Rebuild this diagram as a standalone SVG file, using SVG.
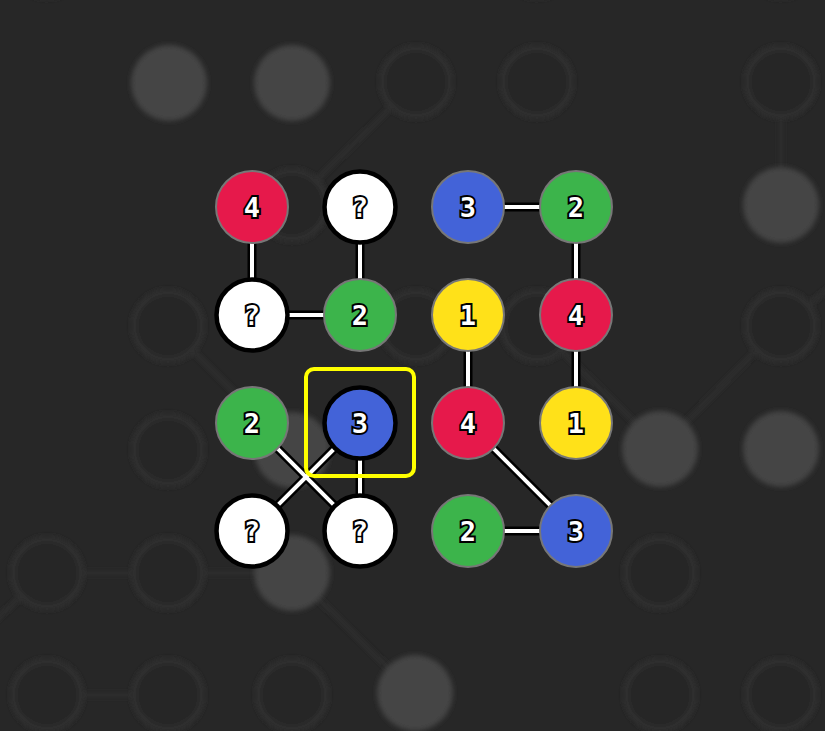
<svg xmlns="http://www.w3.org/2000/svg" width="825" height="731" viewBox="0 0 825 731">
<defs>
<style>
.ring{fill:#272727;stroke:#2e2e2e;stroke-width:7}
.blob{fill:#444}
.bgl{stroke:#2e2e2e;stroke-width:5}
.edge-o{stroke:#000;stroke-width:9}
.edge-i{stroke:#fff;stroke-width:4}
.c{stroke:#777;stroke-width:2}
.w{fill:#fff;stroke:#000;stroke-width:4.5}
.sel{stroke:#000;stroke-width:4.5}
.t{font-family:"DejaVu Sans Mono","Liberation Mono",monospace;font-weight:bold;font-size:27px;fill:#fff;stroke:#000;stroke-width:4;paint-order:stroke;text-anchor:middle;dominant-baseline:central}
</style>
<filter id="b1" x="-20%" y="-20%" width="140%" height="140%"><feGaussianBlur stdDeviation="2"/></filter>
<filter id="b2" x="-30%" y="-30%" width="160%" height="160%"><feGaussianBlur stdDeviation="2.5"/></filter>
</defs>
<rect width="825" height="731" fill="#272727"/>
<g id="background" filter="url(#b1)">
<line class="bgl" x1="416" y1="82" x2="292" y2="205"/>
<line class="bgl" x1="781" y1="82" x2="781" y2="205"/>
<line class="bgl" x1="168" y1="326" x2="292" y2="450"/>
<line class="bgl" x1="781" y1="326" x2="660" y2="448"/>
<line class="bgl" x1="781" y1="326" x2="840" y2="280"/>
<line class="bgl" x1="537" y1="326" x2="660" y2="448"/>
<line class="bgl" x1="47" y1="573" x2="168" y2="573"/>
<line class="bgl" x1="47" y1="573" x2="-10" y2="625"/>
<line class="bgl" x1="168" y1="573" x2="292" y2="573"/>
<line class="bgl" x1="292" y1="573" x2="416" y2="695"/>
<line class="bgl" x1="47" y1="695" x2="168" y2="695"/>
<circle class="ring" cx="416" cy="82" r="34"/>
<circle class="ring" cx="537" cy="82" r="34"/>
<circle class="ring" cx="781" cy="82" r="34"/>
<circle class="ring" cx="292" cy="205" r="34"/>
<circle class="ring" cx="168" cy="326" r="34"/>
<circle class="ring" cx="416" cy="326" r="34"/>
<circle class="ring" cx="537" cy="326" r="34"/>
<circle class="ring" cx="781" cy="326" r="34"/>
<circle class="ring" cx="168" cy="450" r="34"/>
<circle class="ring" cx="47" cy="573" r="34"/>
<circle class="ring" cx="168" cy="573" r="34"/>
<circle class="ring" cx="660" cy="573" r="34"/>
<circle class="ring" cx="47" cy="695" r="34"/>
<circle class="ring" cx="168" cy="695" r="34"/>
<circle class="ring" cx="292" cy="695" r="34"/>
<circle class="ring" cx="660" cy="695" r="34"/>
<circle class="ring" cx="781" cy="695" r="34"/>
<circle class="ring" cx="47" cy="-38" r="34"/>
<circle class="ring" cx="537" cy="-38" r="34"/>
<circle class="ring" cx="781" cy="-38" r="34"/>
</g>
<g id="blobs" filter="url(#b2)">
<circle class="blob" cx="169" cy="83" r="38"/>
<circle class="blob" cx="292" cy="83" r="38"/>
<circle class="blob" cx="781" cy="205" r="38"/>
<circle class="blob" cx="292" cy="450" r="38"/>
<circle class="blob" cx="660" cy="449" r="38"/>
<circle class="blob" cx="781" cy="449" r="38"/>
<circle class="blob" cx="292" cy="573" r="38"/>
<circle class="blob" cx="415" cy="693" r="38"/>
</g>
<g id="connectors">
<g class="edge-o">
<line x1="252" y1="207" x2="252" y2="315"/>
<line x1="360" y1="207" x2="360" y2="315"/>
<line x1="252" y1="315" x2="360" y2="315"/>
<line x1="468" y1="207" x2="576" y2="207"/>
<line x1="576" y1="207" x2="576" y2="315"/>
<line x1="468" y1="315" x2="468" y2="423"/>
<line x1="576" y1="315" x2="576" y2="423"/>
<line x1="252" y1="423" x2="360" y2="531"/>
<line x1="360" y1="423" x2="252" y2="531"/>
<line x1="360" y1="423" x2="360" y2="531"/>
<line x1="468" y1="423" x2="576" y2="531"/>
<line x1="468" y1="531" x2="576" y2="531"/>
</g>
<g class="edge-i">
<line x1="252" y1="207" x2="252" y2="315"/>
<line x1="360" y1="207" x2="360" y2="315"/>
<line x1="252" y1="315" x2="360" y2="315"/>
<line x1="468" y1="207" x2="576" y2="207"/>
<line x1="576" y1="207" x2="576" y2="315"/>
<line x1="468" y1="315" x2="468" y2="423"/>
<line x1="576" y1="315" x2="576" y2="423"/>
<line x1="252" y1="423" x2="360" y2="531"/>
<line x1="360" y1="423" x2="252" y2="531"/>
<line x1="360" y1="423" x2="360" y2="531"/>
<line x1="468" y1="423" x2="576" y2="531"/>
<line x1="468" y1="531" x2="576" y2="531"/>
</g>
</g>
<g id="n00"><circle class="c" cx="252" cy="207" r="36" fill="#e6194b"/><text class="t" x="252" y="207">4</text></g>
<g id="n01"><circle class="w" cx="360" cy="207" r="35.5"/><text class="t" x="360" y="207">?</text></g>
<g id="n02"><circle class="c" cx="468" cy="207" r="36" fill="#4363d8"/><text class="t" x="468" y="207">3</text></g>
<g id="n03"><circle class="c" cx="576" cy="207" r="36" fill="#3cb44b"/><text class="t" x="576" y="207">2</text></g>
<g id="n10"><circle class="w" cx="252" cy="315" r="35.5"/><text class="t" x="252" y="315">?</text></g>
<g id="n11"><circle class="c" cx="360" cy="315" r="36" fill="#3cb44b"/><text class="t" x="360" y="315">2</text></g>
<g id="n12"><circle class="c" cx="468" cy="315" r="36" fill="#ffe119"/><text class="t" x="468" y="315">1</text></g>
<g id="n13"><circle class="c" cx="576" cy="315" r="36" fill="#e6194b"/><text class="t" x="576" y="315">4</text></g>
<g id="n20"><circle class="c" cx="252" cy="423" r="36" fill="#3cb44b"/><text class="t" x="252" y="423">2</text></g>
<g id="n21"><circle class="sel" cx="360" cy="423" r="35.5" fill="#4363d8"/><text class="t" x="360" y="423">3</text></g>
<g id="n22"><circle class="c" cx="468" cy="423" r="36" fill="#e6194b"/><text class="t" x="468" y="423">4</text></g>
<g id="n23"><circle class="c" cx="576" cy="423" r="36" fill="#ffe119"/><text class="t" x="576" y="423">1</text></g>
<g id="n30"><circle class="w" cx="252" cy="531" r="35.5"/><text class="t" x="252" y="531">?</text></g>
<g id="n31"><circle class="w" cx="360" cy="531" r="35.5"/><text class="t" x="360" y="531">?</text></g>
<g id="n32"><circle class="c" cx="468" cy="531" r="36" fill="#3cb44b"/><text class="t" x="468" y="531">2</text></g>
<g id="n33"><circle class="c" cx="576" cy="531" r="36" fill="#4363d8"/><text class="t" x="576" y="531">3</text></g>
<g id="selection"><rect x="306" y="369" width="108" height="107" rx="8" fill="none" stroke="#ffff00" stroke-width="4"/></g>
</svg>
